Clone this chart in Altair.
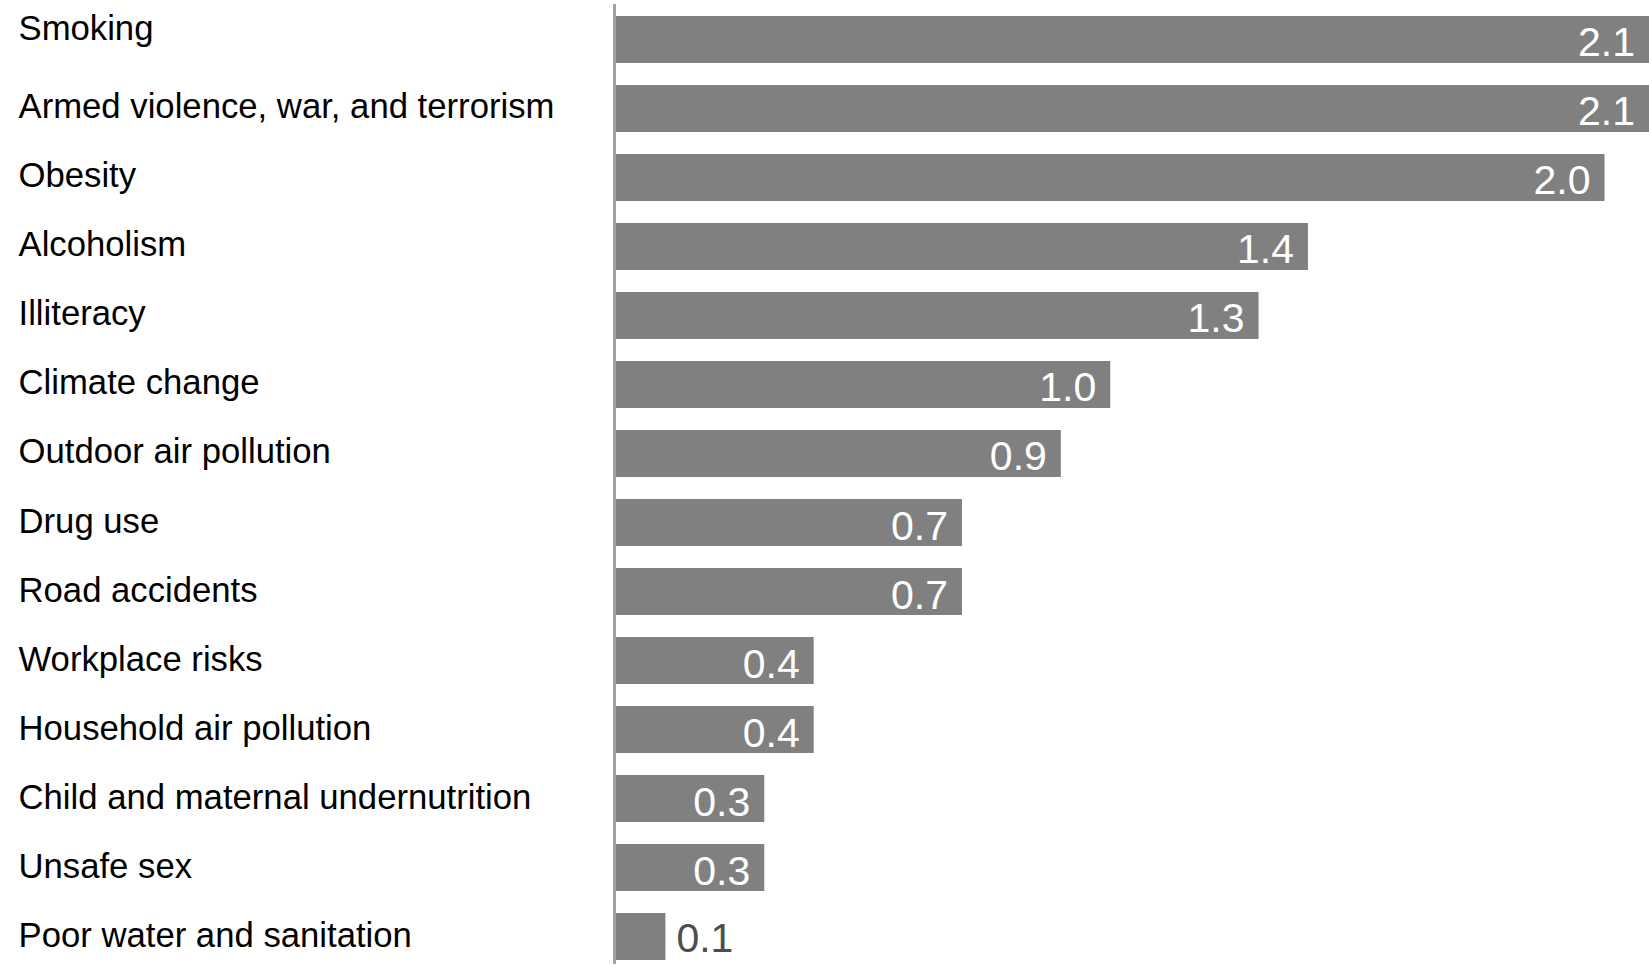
import altair as alt
import pandas as pd

categories = [
    "Smoking",
    "Armed violence, war, and terrorism",
    "Obesity",
    "Alcoholism",
    "Illiteracy",
    "Climate change",
    "Outdoor air pollution",
    "Drug use",
    "Road accidents",
    "Workplace risks",
    "Household air pollution",
    "Child and maternal undernutrition",
    "Unsafe sex",
    "Poor water and sanitation",
]
values = [2.1, 2.1, 2.0, 1.4, 1.3, 1.0, 0.9, 0.7, 0.7, 0.4, 0.4, 0.3, 0.3, 0.1]
labels = ["2.1", "2.1", "2.0", "1.4", "1.3", "1.0", "0.9", "0.7", "0.7", "0.4", "0.4", "0.3", "0.3", "0.1"]

df = pd.DataFrame({"cat": categories, "val": values, "lab": labels})

W = 1033
H = 952
FONT = "Liberation Sans"

y_enc = alt.Y(
    "cat:N",
    sort=categories,
    title=None,
    scale=alt.Scale(paddingInner=0.32, paddingOuter=0.058),
    axis=alt.Axis(
        domain=False,
        ticks=False,
        tickSize=0,
        labelAlign="left",
        labelPadding=598,
        labelLimit=700,
        labelFont=FONT,
        labelFontSize=34.7,
        labelColor="#000000",
        labelBaseline="middle",
        labelOffset=alt.condition("datum.value == 'Smoking'", alt.value(-9), alt.value(0)),
    ),
)
x_scale = alt.Scale(domain=[0, 2.09], clamp=True, nice=False, zero=True)

base = alt.Chart(df)

bars = base.mark_bar(color="#808080").encode(
    x=alt.X("val:Q", scale=x_scale, axis=None),
    y=y_enc,
)

inside = base.transform_filter("datum.val >= 0.2").mark_text(
    align="right", baseline="middle", dx=-14, dy=5,
    font=FONT, fontSize=41, color="#ffffff",
).encode(
    x=alt.X("val:Q", scale=x_scale, axis=None),
    y=alt.Y("cat:N", sort=categories),
    text="lab:N",
)

outside = base.transform_filter("datum.val < 0.2").mark_text(
    align="left", baseline="middle", dx=11, dy=3,
    font=FONT, fontSize=41, color="#4d4d4d",
).encode(
    x=alt.X("val:Q", scale=x_scale, axis=None),
    y=alt.Y("cat:N", sort=categories),
    text="lab:N",
)

axis_line = alt.Chart(pd.DataFrame({"a": [0]})).mark_rule(
    color="#a0a0a0", strokeWidth=3
).encode(
    x=alt.value(-1.5),
    y=alt.value(-8),
    y2=alt.value(H + 2),
)

chart = alt.layer(bars, inside, outside, axis_line).properties(
    width=W,
    height=H,
    autosize=alt.AutoSizeParams(type="none"),
    padding={"left": 616, "top": 12, "right": 0, "bottom": 0},
).configure_view(stroke=None)

chart.save("out.html", embed_options={"renderer": "svg", "actions": False})
